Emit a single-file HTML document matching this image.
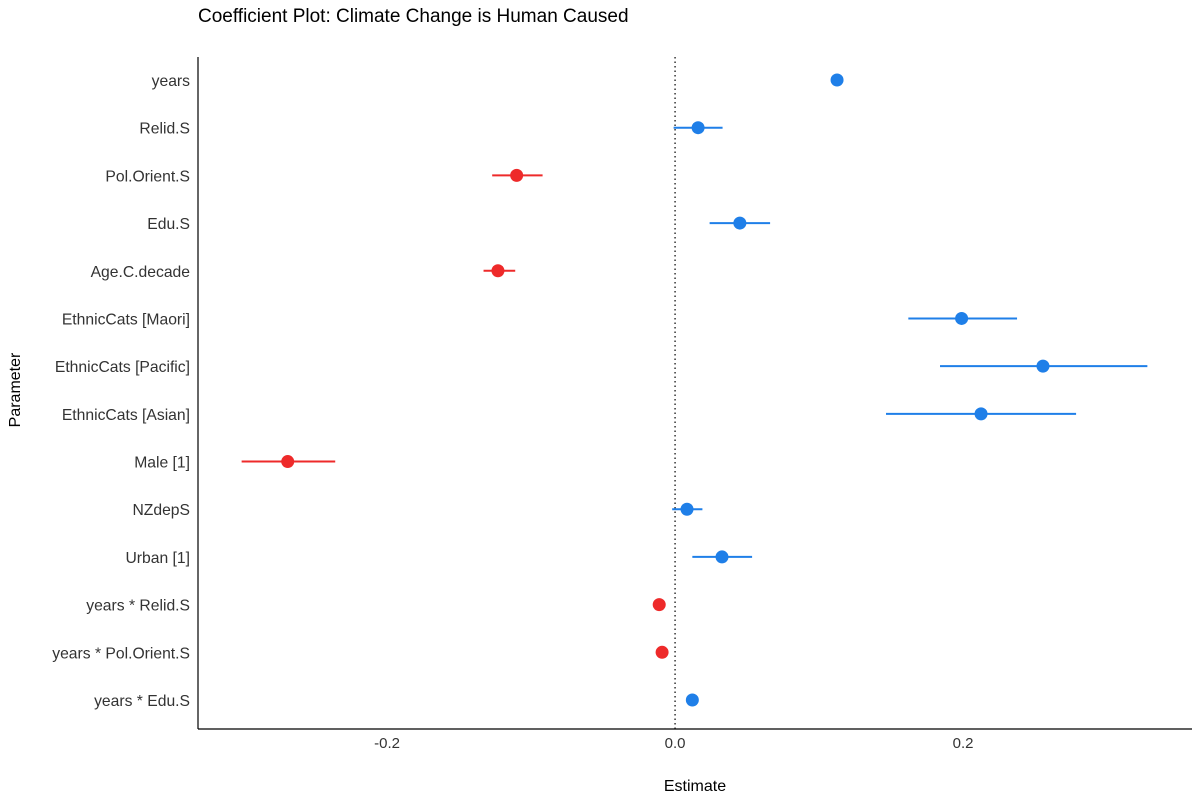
<!DOCTYPE html>
<html><head><meta charset="utf-8"><style>
html,body{margin:0;padding:0;background:#fff;}
svg text{font-family:"Liberation Sans",Arial,sans-serif;}
</style></head><body>
<svg id="chart" width="1200" height="800" xmlns="http://www.w3.org/2000/svg">
<text x="198" y="22" font-size="19" fill="#000">Coefficient Plot: Climate Change is Human Caused</text>
<text x="695" y="791" font-size="16" fill="#000" text-anchor="middle">Estimate</text>
<text transform="translate(20,390) rotate(-90)" font-size="16" fill="#000" text-anchor="middle">Parameter</text>
<g id="plot"></g>
</svg>
<script>
const params = ["years","Relid.S","Pol.Orient.S","Edu.S","Age.C.decade","EthnicCats [Maori]","EthnicCats [Pacific]","EthnicCats [Asian]","Male [1]","NZdepS","Urban [1]","years * Relid.S","years * Pol.Orient.S","years * Edu.S"];
const estimates = [0.1125,0.016,-0.110,0.045,-0.123,0.199,0.2555,0.2125,-0.269,0.0083,0.0326,-0.011,-0.009,0.012];
const ciLow = [0.1115,-0.001,-0.127,0.024,-0.133,0.162,0.184,0.1465,-0.301,-0.002,0.012,-0.012,-0.010,0.011];
const ciHigh = [0.1135,0.033,-0.092,0.066,-0.111,0.2375,0.328,0.2785,-0.236,0.019,0.0535,-0.010,-0.008,0.013];
const xTicks = [-0.2,0.0,0.2];
const xTickLabels = ["-0.2","0.0","0.2"];

const NS="http://www.w3.org/2000/svg";
const g=document.getElementById('plot');
const xMin=-0.3313, xMax=0.359, pLeft=198, pRight=1192, pTop=57, pBottom=729;
const xs=v=>pLeft+(v-xMin)/(xMax-xMin)*(pRight-pLeft);
const ys=i=>80+i*(700-80)/(params.length-1);
function mk(tag,attrs){const e=document.createElementNS(NS,tag);for(const k in attrs)e.setAttribute(k,attrs[k]);g.appendChild(e);return e;}

let ax=mk('line',{x1:pLeft,y1:pTop,x2:pLeft,y2:pBottom,stroke:'#000','stroke-width':1.2});


let bx=mk('line',{x1:pLeft,y1:pBottom,x2:pRight,y2:pBottom,stroke:'#000','stroke-width':1.2});


let zl=mk('line',{x1:xs(0),y1:pTop,x2:xs(0),y2:pBottom,stroke:'#000','stroke-width':1.2,'stroke-dasharray':'1.5,3'});



xTicks.forEach((t,i)=>{
  const tl=mk('text',{x:xs(t),y:748,'font-size':15,fill:'#333','text-anchor':'middle'});
  tl.textContent=xTickLabels[i];
  
  
});

params.forEach((p,i)=>{
  const lab=mk('text',{x:190,y:ys(i)+6,'font-size':15.7,fill:'#333','text-anchor':'end'});
  lab.textContent=p;
  
  
  const col=estimates[i]<0?'#ee2a2a':'#1f7fe8';
  const ln=mk('line',{x1:xs(ciLow[i]),y1:ys(i),x2:xs(ciHigh[i]),y2:ys(i),stroke:col,'stroke-width':2});
  
  
  const c=mk('circle',{cx:xs(estimates[i]),cy:ys(i),r:6.5,fill:col});
  
  
});
</script>
</body></html>
